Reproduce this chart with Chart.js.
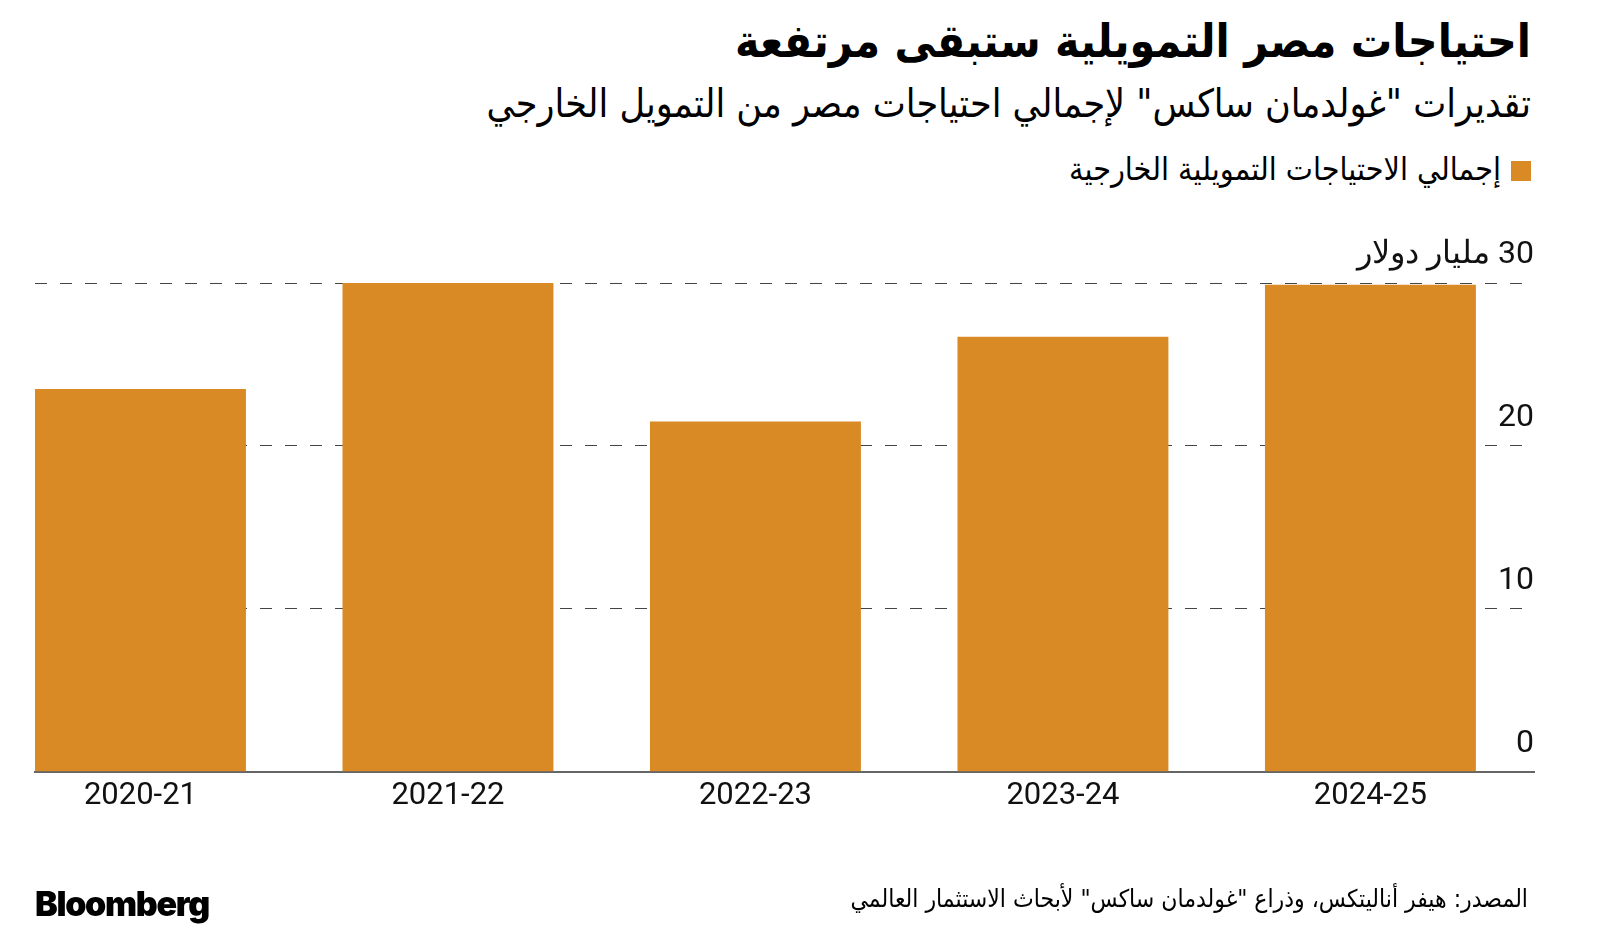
<!DOCTYPE html>
<html lang="ar">
<head>
  <meta charset="UTF-8">
  <title>احتياجات مصر التمويلية</title>
  <script src="https://cdn.jsdelivr.net/npm/chart.js"></script>
  <style>
    html, body { margin: 0; padding: 0; background: #fff; }
    body { width: 1600px; height: 930px; position: relative; overflow: hidden; font-family: "DejaVu Sans", sans-serif; color: #000; }
    .ar { position: absolute; right: 69px; direction: rtl; white-space: nowrap; font-stretch: condensed; font-family: "DejaVu Sans", sans-serif; }
    #titre { top: 14px; font-size: 46px; font-weight: bold; }
    #sous { top: 81px; font-size: 39px; }
    #leg { top: 150px; font-size: 32px; }
    #leg span.sw { display: inline-block; width: 20px; height: 20px; background: #da8a24; margin-left: 10px; vertical-align: -1px; }
    #source { top: 884px; right: 72px; font-size: 24.5px; }
    #logo { position: absolute; left: 35px; top: 883px; font-family: Inter, sans-serif; font-weight: 900; font-size: 34px; letter-spacing: -1.3px; }
    canvas { position: absolute; left: 0; top: 0; }
  </style>
</head>
<body>
  <div class="ar" id="titre">احتياجات مصر التمويلية ستبقى مرتفعة</div>
  <div class="ar" id="sous">تقديرات "غولدمان ساكس" لإجمالي احتياجات مصر من التمويل الخارجي</div>
  <div class="ar" id="leg"><span class="sw"></span>إجمالي الاحتياجات التمويلية الخارجية</div>

  <canvas id="graphique" width="1600" height="930" dir="rtl"></canvas>

  <div class="ar" id="source">المصدر: هيفر أناليتكس، وذراع "غولدمان ساكس" لأبحاث الاستثمار العالمي</div>
  <div id="logo">Bloomberg</div>

  <script>
    // données (milliards de dollars)
    const annees = ["2020-21", "2021-22", "2022-23", "2023-24", "2024-25"];
    const besoins = [23.5, 30.0, 21.5, 26.7, 29.9];
    const ticksY = [0, 10, 20, 30];
    const uniteY = "مليار دولار";

    const orange = "#da8a24";

    const ctx = document.getElementById("graphique");
    new Chart(ctx, {
      type: "bar",
      data: {
        datasets: [{
          label: "إجمالي الاحتياجات التمويلية الخارجية",
          data: besoins.map((v, i) => ({ x: i, y: v })),
          backgroundColor: orange,
          borderWidth: 0,
          barPercentage: 0.686,
          categoryPercentage: 1
        }]
      },
      options: {
        responsive: false,
        animation: false,
        layout: { padding: { left: 35, right: 66, top: 283, bottom: 109 } },
        plugins: { legend: { display: false }, tooltip: { enabled: false } },
        scales: {
          x: {
            type: "linear",
            offset: false,
            min: -0.343,
            max: 4.532,
            afterBuildTicks: s => { s.ticks = annees.map((a, i) => ({ value: i })); },
            grid: { display: true, offset: false, drawOnChartArea: false, drawTicks: false },
            border: { display: true, color: "#666", width: 2 },
            ticks: {
              padding: 6,
              maxRotation: 0,
              autoSkip: false,
              color: "#111",
              font: { family: "Roboto", size: 31 },
              callback: v => annees[v]
            }
          },
          y: {
            position: "right",
            min: 0,
            max: 30,
            afterBuildTicks: s => { s.ticks = ticksY.map(v => ({ value: v })); },
            grid: {
              drawTicks: false,
              color: c => c.tick && c.tick.value === 0 ? "rgba(0,0,0,0)" : "#444",
              lineWidth: 1
            },
            border: { display: false, dash: [12, 13] },
            ticks: {
              mirror: true,
              padding: 0,
              labelOffset: -28,
              color: "#111",
              font: { family: "Roboto", size: 32 },
              callback: v => v === 30 ? v + " " + uniteY : String(v)
            }
          }
        }
      }
    });
  </script>
</body>
</html>
